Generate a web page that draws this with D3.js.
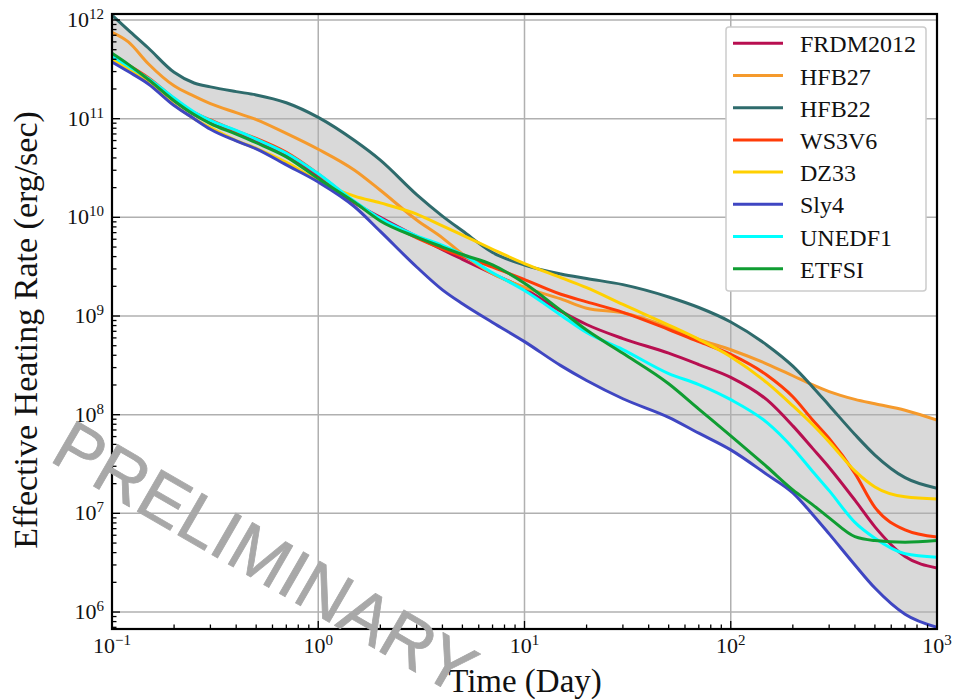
<!DOCTYPE html>
<html><head><meta charset="utf-8">
<script src="https://cdn.jsdelivr.net/npm/d3@7"></script>
<style>body{margin:0;background:#fff}</style>
</head><body>
<svg id="chart" width="955" height="699"></svg>
<script>
// ---- data (time in days, heating rate in erg/s) ----
const times = [0.1, 0.12, 0.15, 0.2, 0.25, 0.3, 0.4, 0.5, 0.7, 1, 1.5, 2, 3, 4, 5, 7, 10, 15, 20, 30, 50, 70, 100, 150, 200, 250, 300, 400, 500, 700, 1000];

const FRDM2012 = [4.1e11, 3.3e11, 2.45e11, 1.52e11, 1.1e11, 9.1e10, 7.2e10, 5.9e10, 4.25e10, 2.6e10, 1.4e10, 1.0e10, 6.4e9, 4.7e9, 3.75e9, 2.68e9, 1.89e9, 1.12e9, 8.2e8, 5.9e8, 4.2e8, 3.22e8, 2.39e8, 1.41e8, 7.7e7, 4.53e7, 2.92e7, 1.36e7, 7.3e6, 3.65e6, 2.8e6];
const HFB27 = [7.5e11, 6.0e11, 3.6e11, 2.15e11, 1.69e11, 1.42e11, 1.15e11, 9.8e10, 7.1e10, 4.9e10, 3.0e10, 1.88e10, 9.4e9, 6.2e9, 4.25e9, 2.69e9, 1.95e9, 1.49e9, 1.2e9, 1.08e9, 7.7e8, 5.8e8, 4.55e8, 3.26e8, 2.48e8, 2.0e8, 1.71e8, 1.43e8, 1.29e8, 1.11e8, 8.8e7];
const HFB22 = [1.12e12, 7.9e11, 5.2e11, 2.95e11, 2.3e11, 2.1e11, 1.88e11, 1.74e11, 1.45e11, 1.03e11, 6.0e10, 3.8e10, 1.7e10, 1.03e10, 7.3e9, 4.4e9, 3.28e9, 2.67e9, 2.4e9, 2.08e9, 1.56e9, 1.22e9, 8.7e8, 5.06e8, 3.1e8, 1.9e8, 1.24e8, 6.3e7, 3.9e7, 2.3e7, 1.8e7];
const WS3V6 = [4.4e11, 3.5e11, 2.6e11, 1.6e11, 1.15e11, 9.7e10, 7.5e10, 6.3e10, 4.55e10, 2.75e10, 1.42e10, 9.6e9, 6.2e9, 4.8e9, 4.03e9, 3.13e9, 2.34e9, 1.66e9, 1.39e9, 1.09e9, 7.3e8, 5.5e8, 4.08e8, 2.51e8, 1.52e8, 8.8e7, 5.75e7, 2.54e7, 1.15e7, 6.8e6, 5.75e6];
const DZ33 = [4.0e11, 3.2e11, 2.3e11, 1.38e11, 1.0e11, 8.1e10, 6.0e10, 5.0e10, 3.6e10, 2.35e10, 1.64e10, 1.4e10, 1.08e10, 8.2e9, 6.6e9, 4.75e9, 3.4e9, 2.45e9, 1.94e9, 1.31e9, 8.1e8, 5.8e8, 3.87e8, 2.1e8, 1.23e8, 7.9e7, 5.3e7, 2.69e7, 1.85e7, 1.47e7, 1.4e7];
const Sly4 = [3.75e11, 3.0e11, 2.25e11, 1.36e11, 1.0e11, 7.8e10, 5.94e10, 4.94e10, 3.4e10, 2.28e10, 1.28e10, 7.2e9, 3.14e9, 1.84e9, 1.33e9, 8.6e8, 5.5e8, 3.14e8, 2.22e8, 1.45e8, 9.4e7, 6.5e7, 4.4e7, 2.47e7, 1.61e7, 9.7e6, 6.2e6, 3.0e6, 1.75e6, 9.5e5, 7.0e5];
const UNEDF1 = [4.3e11, 3.4e11, 2.55e11, 1.62e11, 1.17e11, 9.6e10, 7.6e10, 6.2e10, 4.46e10, 2.76e10, 1.45e10, 9.7e9, 6.5e9, 5.2e9, 4.2e9, 2.74e9, 1.81e9, 1.02e9, 6.8e8, 4.57e8, 2.61e8, 2.02e8, 1.42e8, 8.3e7, 4.6e7, 2.64e7, 1.7e7, 8.1e6, 5.6e6, 3.9e6, 3.6e6];
const ETFSI = [4.6e11, 3.55e11, 2.5e11, 1.52e11, 1.1e11, 8.9e10, 6.96e10, 5.7e10, 4.1e10, 2.47e10, 1.42e10, 9.2e9, 6.3e9, 5.0e9, 4.2e9, 3.3e9, 2.15e9, 1.14e9, 7.2e8, 4.19e8, 2.06e8, 1.14e8, 6.1e7, 2.95e7, 1.73e7, 1.22e7, 9.0e6, 5.8e6, 5.3e6, 5.1e6, 5.3e6];

const seriesNames = ["FRDM2012", "HFB27", "HFB22", "WS3V6", "DZ33", "Sly4", "UNEDF1", "ETFSI"];
const seriesValues = [FRDM2012, HFB27, HFB22, WS3V6, DZ33, Sly4, UNEDF1, ETFSI];
const seriesColors = ["#b80f50", "#f59a2c", "#2e6b6c", "#ff3c08", "#ffd000", "#3f46c2", "#00ffff", "#0f9d32"];

const xTickExponents = [-1, 0, 1, 2, 3];
const yTickExponents = [6, 7, 8, 9, 10, 11, 12];
const xLabel = "Time (Day)";
const yLabel = "Effective Heating Rate (erg/sec)";
const watermark = "PRELIMINARY";

// ---- layout ----
const L = 112, R = 937, T = 14, B = 629;
const svg = d3.select("#chart");
const x = d3.scaleLog().domain([0.1, 1000]).range([L, R]);
const y = d3.scaleLog().domain([6.73e5, 1.15e12]).range([B, T]);
const serif = "'Liberation Serif','Times New Roman',serif";
const sup = e => (e < 0 ? "\u2212" + Math.abs(e) : String(e));

svg.append("defs").append("clipPath").attr("id", "clip")
  .append("rect").attr("x", L).attr("y", T).attr("width", R - L).attr("height", B - T);

// envelope
const env = times.map((t, i) => {
  const vals = seriesValues.map(s => s[i]);
  return { t, lo: d3.min(vals), hi: d3.max(vals) };
});
const area = d3.area().x(d => x(d.t)).y0(d => y(d.lo)).y1(d => y(d.hi)).curve(d3.curveMonotoneX);
svg.append("path").datum(env).attr("d", area).attr("fill", "#d9d9d9").attr("clip-path", "url(#clip)");

// grid
const g = svg.append("g").attr("stroke", "#b0b0b0").attr("stroke-width", 1.5);
xTickExponents.forEach(e => {
  const px = x(Math.pow(10, e));
  g.append("line").attr("x1", px).attr("x2", px).attr("y1", T).attr("y2", B);
});
yTickExponents.forEach(e => {
  const py = y(Math.pow(10, e));
  g.append("line").attr("x1", L).attr("x2", R).attr("y1", py).attr("y2", py);
});

// lines
const line = d3.line().x(d => x(d[0])).y(d => y(d[1])).curve(d3.curveMonotoneX);
seriesValues.forEach((s, k) => {
  svg.append("path").datum(times.map((t, i) => [t, s[i]]))
    .attr("d", line).attr("fill", "none").attr("stroke", seriesColors[k])
    .attr("stroke-width", 3).attr("stroke-linejoin", "round").attr("clip-path", "url(#clip)");
});

// ticks (inward)
const tk = svg.append("g").attr("stroke", "#000").attr("stroke-width", 1.3);
x.ticks().forEach(v => {
  const major = Math.abs(Math.log10(v) - Math.round(Math.log10(v))) < 1e-9;
  const px = x(v);
  tk.append("line").attr("x1", px).attr("x2", px).attr("y1", B).attr("y2", B - (major ? 8 : 4.5));
});
y.ticks().forEach(v => {
  const major = Math.abs(Math.log10(v) - Math.round(Math.log10(v))) < 1e-9;
  const py = y(v);
  if (py < T || py > B) return;
  tk.append("line").attr("y1", py).attr("y2", py).attr("x1", L).attr("x2", L + (major ? 8 : 4.5));
});

// tick labels
xTickExponents.forEach(e => {
  const t = svg.append("text").attr("x", x(Math.pow(10, e))).attr("y", 653)
    .attr("text-anchor", "middle").attr("font-family", serif).attr("font-size", 22).attr("fill", "#111");
  t.append("tspan").text("10");
  t.append("tspan").attr("dy", -8).attr("font-size", 15).text(sup(e));
});
yTickExponents.forEach(e => {
  const t = svg.append("text").attr("x", 104).attr("y", y(Math.pow(10, e)) + 7)
    .attr("text-anchor", "end").attr("font-family", serif).attr("font-size", 22).attr("fill", "#111");
  t.append("tspan").text("10");
  t.append("tspan").attr("dy", -8).attr("font-size", 15).text(sup(e));
});

// frame
svg.append("rect").attr("x", L).attr("y", T).attr("width", R - L).attr("height", B - T)
  .attr("fill", "none").attr("stroke", "#000").attr("stroke-width", 2.2);

// axis labels
svg.append("text").attr("x", 525).attr("y", 692).attr("text-anchor", "middle")
  .attr("font-family", serif).attr("font-size", 33).attr("fill", "#111").text(xLabel);
svg.append("text").attr("transform", "translate(37,330) rotate(-90)").attr("text-anchor", "middle")
  .attr("font-family", serif).attr("font-size", 34).attr("fill", "#111").text(yLabel);

// legend
const lg = svg.append("g");
lg.append("rect").attr("x", 726).attr("y", 27).attr("width", 200).attr("height", 264).attr("rx", 3)
  .attr("fill", "#fff").attr("stroke", "#cccccc").attr("stroke-width", 1.5);
seriesNames.forEach((n, k) => {
  const ly = 43.3 + k * 32.2;
  lg.append("line").attr("x1", 733).attr("x2", 783).attr("y1", ly).attr("y2", ly)
    .attr("stroke", seriesColors[k]).attr("stroke-width", 3);
  lg.append("text").attr("x", 800).attr("y", ly + 9).attr("font-family", serif)
    .attr("font-size", 24).attr("fill", "#111").text(n);
});

// watermark
svg.append("text").attr("transform", "translate(48,460) rotate(30)")
  .attr("font-family", "'Liberation Sans',Arial,sans-serif").attr("font-size", 70)
  .attr("fill", "#a8a8a8").attr("stroke", "#a8a8a8").attr("stroke-width", 0.8)
  .attr("stroke-linejoin", "round").text(watermark);
</script>
</body></html>
